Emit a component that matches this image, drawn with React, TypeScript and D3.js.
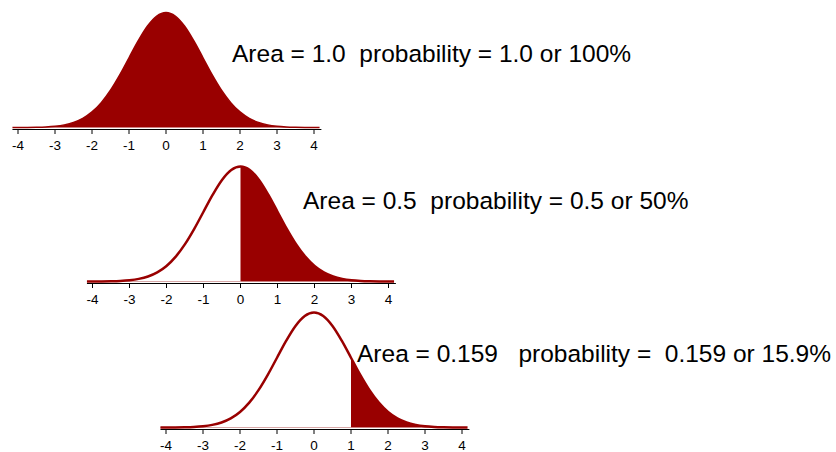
import React from "react";
import * as d3 from "d3";

// Standard normal curve (x in z-units, y = density)
const zValues = [-4.15, -4, -3.75, -3.5, -3.25, -3, -2.75, -2.5, -2.25, -2, -1.75, -1.5, -1.25, -1, -0.75, -0.5, -0.25, 0,
  0.25, 0.5, 0.75, 1, 1.25, 1.5, 1.75, 2, 2.25, 2.5, 2.75, 3, 3.25, 3.5, 3.75, 4, 4.15];
const densities = [0.0001, 0.0001, 0.0004, 0.0009, 0.002, 0.0044, 0.0091, 0.0175, 0.0317, 0.054, 0.0863, 0.1295, 0.1826, 0.242, 0.3011, 0.3521, 0.3867, 0.3989,
  0.3867, 0.3521, 0.3011, 0.242, 0.1826, 0.1295, 0.0863, 0.054, 0.0317, 0.0175, 0.0091, 0.0044, 0.002, 0.0009, 0.0004, 0.0001, 0.0001];

const tickValues = [-4, -3, -2, -1, 0, 1, 2, 3, 4];

// Panels
const panelShadeFrom = [-4.15, 0, 1];
const panelLabels = [
  "Area = 1.0  probability = 1.0 or 100%",
  "Area = 0.5  probability = 0.5 or 50%",
  "Area = 0.159   probability =  0.159 or 15.9%",
];

const layouts = [
  { x0: 166, axisY: 129, labelX: 232, labelY: 62 },
  { x0: 240.5, axisY: 283, labelX: 303, labelY: 209 },
  { x0: 314, axisY: 429, labelX: 357, labelY: 362 },
];

const RED = "#990000";
const UNIT = 37;

type Pt = { z: number; d: number };
const points: Pt[] = zValues.map((z, i) => ({ z, d: densities[i] }));

function Panel({ idx }: { idx: number }) {
  const { x0, axisY, labelX, labelY } = layouts[idx];
  const shadeFrom = panelShadeFrom[idx];
  const x = d3.scaleLinear().domain([-4, 4]).range([x0 - 4 * UNIT, x0 + 4 * UNIT]);
  const y = d3.scaleLinear().domain([0, 0.3989]).range([axisY - 1.5, axisY - 1.5 - 115]);

  const line = d3.line<Pt>().x((p) => x(p.z)).y((p) => y(p.d)).curve(d3.curveMonotoneX);
  const area = d3.area<Pt>().x((p) => x(p.z)).y0(y(0)).y1((p) => y(p.d)).curve(d3.curveMonotoneX);
  const shaded = points.filter((p) => p.z >= shadeFrom);
  const full = idx === 0;

  return (
    <g>
      {!full && (
        <line x1={x(-4.15)} x2={x(shadeFrom)} y1={y(0)} y2={y(0)} stroke="#d8a8a8" strokeWidth={1} />
      )}
      <path d={area(shaded) || ""} fill={RED} stroke="none" />
      <path d={line(points) || ""} fill="none" stroke={RED} strokeWidth={full ? 1.5 : 2.5} strokeLinejoin="round" />
      <line x1={x(-4.15)} x2={x(4.2)} y1={axisY + 0.5} y2={axisY + 0.5} stroke="#000" strokeWidth={1} />
      {tickValues.map((t) => (
        <g key={t}>
          <line x1={x(t)} x2={x(t)} y1={axisY} y2={axisY + 5} stroke="#000" strokeWidth={1} />
          <text x={x(t)} y={axisY + 21} textAnchor="middle" fontSize={13.5} fontFamily="'Liberation Sans', Arial, sans-serif" fill="#000">
            {t}
          </text>
        </g>
      ))}
      <text x={labelX} y={labelY} fontSize={24.5} fontFamily="'Liberation Sans', Arial, sans-serif" fill="#000" style={{ whiteSpace: "pre" }}>
        {panelLabels[idx]}
      </text>
    </g>
  );
}

export default function App() {
  return (
    <svg width={836} height={452} style={{ position: "absolute", left: 0, top: 0, background: "#fff" }}>
      <rect width={836} height={452} fill="#fff" />
      {layouts.map((_, i) => (
        <Panel key={i} idx={i} />
      ))}
    </svg>
  );
}
